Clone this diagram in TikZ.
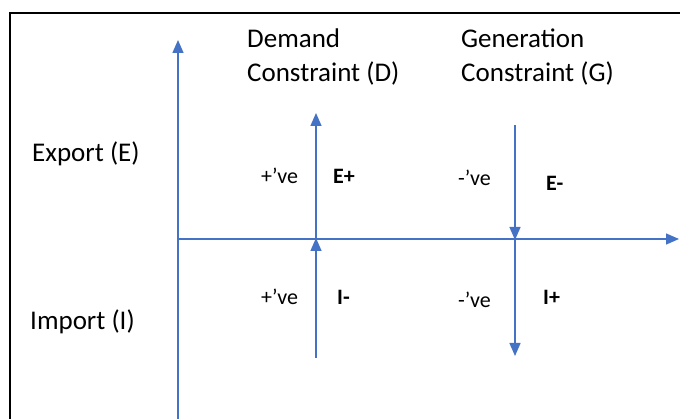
\documentclass[tikz,border=0pt]{standalone}
\usepackage{fontspec}
\setmainfont{Carlito}
\usetikzlibrary{arrows.meta}
\definecolor{axblue}{HTML}{4472C4}
\tikzset{
  axis/.style={draw=axblue, line width=1.4pt, -{Triangle[width=11pt,length=13pt]}},
  big/.style={anchor=base west, inner sep=0pt, font=\fontsize{27}{34}\selectfont, align=left},
  small/.style={anchor=base west, inner sep=0pt, font=\fontsize{22}{26}\selectfont},
  smallb/.style={anchor=base west, inner sep=0pt, font=\fontsize{22}{26}\selectfont\bfseries},
}
\begin{document}
\begin{tikzpicture}[x=1pt,y=-1pt]
\useasboundingbox (0,0) rectangle (680,419);
% frame
\coordinate (f1) at (10,419.5);
\coordinate (f2) at (10,13);
\coordinate (f3) at (681,13);
\draw[line width=2pt, line cap=rect] (f1) -- (f2) -- (f3);
% axes
\coordinate (o) at (178,239);
\coordinate (vb) at (178,420);
\coordinate (vt) at (178,40);
\coordinate (hr) at (679,239);
\draw[axis] (vb) -- (vt);
\draw[axis] (o) -- (hr);
% demand
\coordinate (d0) at (316,358);
\coordinate (dm) at (316,238);
\coordinate (dt) at (316,113);
\draw[axis] (d0) -- (dm);
\draw[axis] (dm) -- (dt);
% generation
\coordinate (g0) at (515,125);
\coordinate (gm) at (515,240);
\coordinate (gb) at (515,356);
\draw[axis] (g0) -- (gm);
\draw[axis] (gm) -- (gb);
% labels
\node[big] (dem) at (247,82) {Demand\\Constraint (D)};
\node[big] (gen) at (461,82) {Generation\\Constraint (G)};
\node[big] (exp) at (32,162) {Export (E)};
\node[big] (imp) at (30,330) {Import (I)};
\node[small] (pve1) at (261,184) {+’ve};
\node[smallb] (ep) at (333,184) {E+};
\node[small] (nve1) at (458,186) {-’ve};
\node[smallb] (em) at (546,191) {E-};
\node[small] (pve2) at (261,305) {+’ve};
\node[smallb] (im) at (337,305) {I-};
\node[small] (nve2) at (458,308) {-’ve};
\node[smallb] (ip) at (543,305) {I+};
\end{tikzpicture}
\end{document}
